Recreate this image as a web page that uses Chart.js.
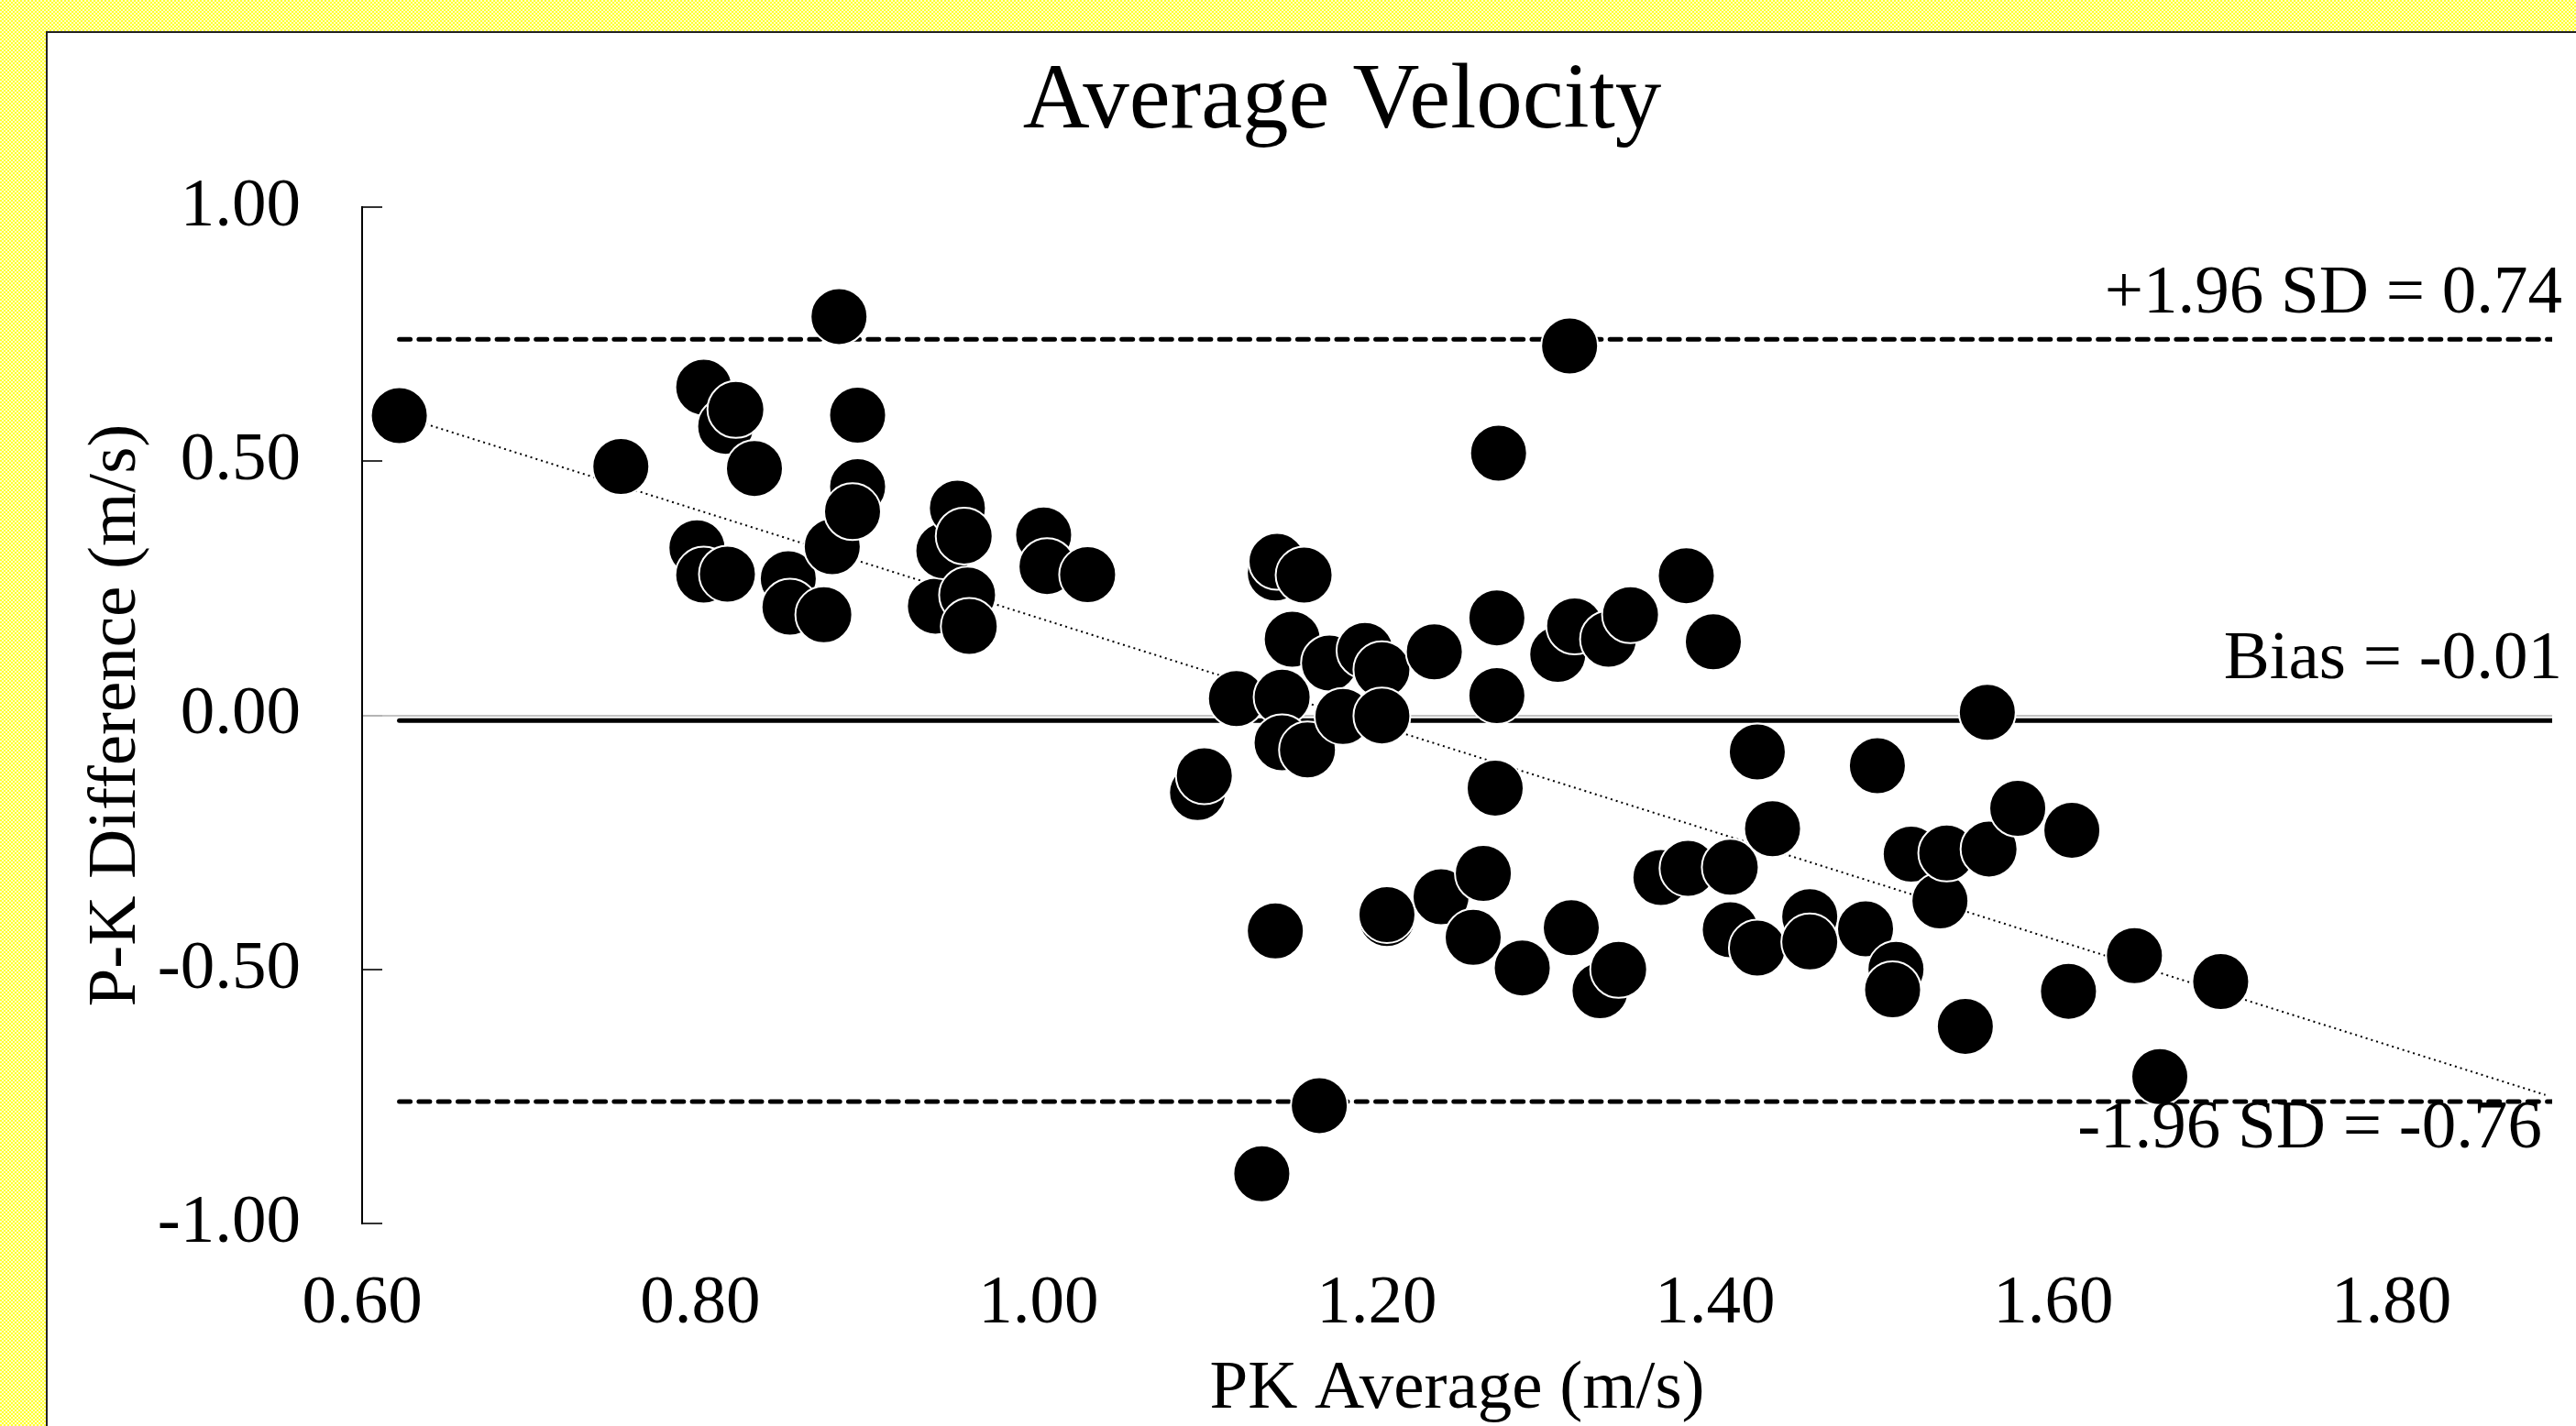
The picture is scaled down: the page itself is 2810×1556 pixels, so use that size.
<!DOCTYPE html>
<html>
<head>
<meta charset="utf-8">
<script src="https://cdn.jsdelivr.net/npm/chart.js@4.4.1/dist/chart.umd.min.js"></script>
<style>
  html, body { margin: 0; padding: 0; width: 2810px; height: 1556px; overflow: hidden; }
  body { background: repeating-conic-gradient(#ffff2e 0 25%, #ffffc8 0 50%) 0 0 / 4px 4px; }
  #frame { position: absolute; left: 50px; top: 34px; width: 2824px; height: 1560px;
           border: 2px solid #222; background: #fff; }
  canvas { display: block; }
</style>
</head>
<body>
<div id="frame"><canvas id="bland" width="2824" height="1560"></canvas></div>
<script>
/* =========================
   DATA
========================= */

// PK average (m/s)
const pkAverage = [
  0.622, 0.753, 0.802, 0.815, 0.821, 0.832, 0.798, 0.802, 0.816, 0.852,
  0.853, 0.873, 0.878, 0.882, 0.893, 0.893, 0.890, 0.939, 0.944, 0.952,
  0.956, 0.958, 0.959, 1.003, 1.005, 1.029, 1.094, 1.098, 1.117, 1.140,
  1.141, 1.157, 1.150, 1.144, 1.144, 1.159, 1.140, 1.132, 1.166, 1.172,
  1.180, 1.193, 1.203, 1.203, 1.206, 1.206, 1.234, 1.238, 1.257, 1.263,
  1.272, 1.271, 1.271, 1.270, 1.286, 1.314, 1.307, 1.317, 1.315, 1.332,
  1.337, 1.343, 1.350, 1.368, 1.384, 1.383, 1.399, 1.409, 1.409, 1.425,
  1.425, 1.434, 1.456, 1.456, 1.496, 1.489, 1.507, 1.505, 1.516, 1.533,
  1.537, 1.548, 1.561, 1.562, 1.579, 1.609, 1.611, 1.648, 1.663, 1.699
];

// P-K difference (m/s)
const pkDiff = [
  0.590, 0.490, 0.646, 0.569, 0.602, 0.486, 0.330, 0.276, 0.278, 0.269,
  0.213, 0.198, 0.332, 0.785, 0.591, 0.450, 0.401, 0.215, 0.324, 0.408,
  0.353, 0.237, 0.175, 0.355, 0.293, 0.277, -0.152, -0.119, 0.033, 0.280,
  0.303, 0.276, 0.150, 0.036, -0.054, -0.068, -0.424, -0.902, -0.768, 0.103,
  -0.002, 0.128, 0.090, -0.001, -0.400, -0.392, 0.125, -0.357, -0.437, -0.311,
  0.516, 0.192, 0.039, -0.143, -0.497, 0.727, 0.120, 0.176, -0.418, -0.542,
  0.150, -0.500, 0.198, -0.319, -0.301, 0.275, 0.145, -0.299, -0.422, -0.072,
  -0.458, -0.223, -0.396, -0.446, -0.099, -0.420, -0.500, -0.540, -0.273, -0.365,
  -0.271, -0.612, 0.006, -0.263, -0.183, -0.543, -0.226, -0.473, -0.711, -0.524
];

// limits of agreement and bias
const upperLoa = 0.74;
const bias = -0.01;
const lowerLoa = -0.76;
const lineSpan = [0.622, 1.895];

// proportional bias trend (dotted)
const trendX = [0.622, 1.891];
const trendY = [0.590, -0.747];

const xTicks = [0.6, 0.8, 1.0, 1.2, 1.4, 1.6, 1.8];
const yTicks = [-1.0, -0.5, 0.0, 0.5, 1.0];

/* =========================
   CHART
========================= */

const FONT = "'Times New Roman', 'Liberation Serif', serif";
Chart.defaults.font.family = FONT;
Chart.defaults.color = "#000";

function flatLine(value) {
  return lineSpan.map(x => ({ x, y: value }));
}

// text next to the reference lines
const refLabels = {
  id: "refLabels",
  afterDatasetsDraw(chart) {
    const { ctx, chartArea, scales: { y } } = chart;
    const items = [
      { text: "+1.96 SD = " + upperLoa.toFixed(2), value: upperLoa, dx: 11, dy: -29 },
      { text: "Bias = " + bias.toFixed(2), value: bias, dx: 11, dy: -46 },
      { text: "-1.96 SD = " + lowerLoa.toFixed(2), value: lowerLoa, dx: -11, dy: 50 }
    ];
    ctx.save();
    ctx.font = "75px " + FONT;
    ctx.fillStyle = "#000";
    ctx.textAlign = "right";
    ctx.textBaseline = "alphabetic";
    items.forEach(it => {
      ctx.fillText(it.text, chartArea.right + it.dx, y.getPixelForValue(it.value) + it.dy);
    });
    ctx.restore();
  }
};

const lineStyle = {
  type: "scatter",
  showLine: true,
  pointRadius: 0,
  pointHoverRadius: 0,
  borderColor: "#000",
  borderCapStyle: "round",
  fill: false,
  order: 2
};

new Chart(document.getElementById("bland"), {
  type: "scatter",
  data: {
    datasets: [
      {
        label: "P-K",
        data: pkAverage.map((x, i) => ({ x, y: pkDiff[i] })),
        pointRadius: 31,
        pointHoverRadius: 31,
        pointBackgroundColor: "#000",
        pointBorderColor: "#fff",
        pointBorderWidth: 2,
        order: 0
      },
      { ...lineStyle, label: "upper", data: flatLine(upperLoa), borderWidth: 5, borderDash: [12, 9.3] },
      { ...lineStyle, label: "bias", data: flatLine(bias), borderWidth: 5 },
      { ...lineStyle, label: "lower", data: flatLine(lowerLoa), borderWidth: 5, borderDash: [12, 9.3] },
      {
        ...lineStyle,
        label: "trend",
        data: trendX.map((x, i) => ({ x, y: trendY[i] })),
        borderWidth: 2,
        borderCapStyle: "butt",
        borderDash: [2, 4],
        order: 1
      }
    ]
  },
  options: {
    responsive: false,
    animation: false,
    devicePixelRatio: 1,
    layout: { padding: 0 },
    plugins: {
      legend: { display: false },
      tooltip: { enabled: false },
      title: {
        display: true,
        text: "Average Velocity",
        color: "#000",
        font: { size: 101, weight: "normal", family: FONT },
        padding: { top: 16, bottom: 53 }
      }
    },
    scales: {
      x: {
        type: "linear",
        min: 0.6,
        max: 1.895,
        afterBuildTicks: scale => { scale.ticks = xTicks.map(v => ({ value: v })); },
        afterFit: scale => { scale.height = 261; },
        grid: { display: false, drawTicks: false },
        border: { display: false },
        ticks: {
          autoSkip: false,
          maxRotation: 0,
          padding: 43,
          color: "#000",
          font: { size: 75, family: FONT },
          callback: v => Number(v).toFixed(2)
        },
        title: {
          display: true,
          text: "PK Average (m/s)",
          color: "#000",
          font: { size: 75, family: FONT },
          padding: { top: 0, bottom: 35 }
        }
      },
      y: {
        type: "linear",
        min: -1,
        max: 1,
        afterBuildTicks: scale => { scale.ticks = yTicks.map(v => ({ value: v })); },
        afterFit: scale => { scale.width = 343; },
        grid: {
          drawOnChartArea: true,
          drawTicks: true,
          tickLength: -22,
          lineWidth: 2,
          tickWidth: 1.6,
          color: c => (c.tick && c.tick.value === 0 ? "#c4c4c4" : "rgba(0,0,0,0)"),
          tickColor: c => (c.tick && c.tick.value === 0 ? "#b0b0b0" : "#000")
        },
        border: { display: true, color: "#000", width: 2 },
        ticks: {
          padding: 89,
          color: "#000",
          font: { size: 75, family: FONT },
          callback: v => Number(v).toFixed(2)
        },
        title: {
          display: true,
          text: "P-K Difference (m/s)",
          color: "#000",
          font: { size: 75, family: FONT },
          padding: { top: 30, bottom: 0 }
        }
      },
      // empty strip on the right so the plot stops short of the frame
      rightGap: {
        type: "linear",
        position: "right",
        min: 0,
        max: 1,
        afterFit: scale => { scale.width = 92; },
        grid: { display: false, drawTicks: false },
        border: { display: false },
        ticks: { display: false },
        title: { display: false }
      }
    }
  },
  plugins: [refLabels]
});
</script>
</body>
</html>
